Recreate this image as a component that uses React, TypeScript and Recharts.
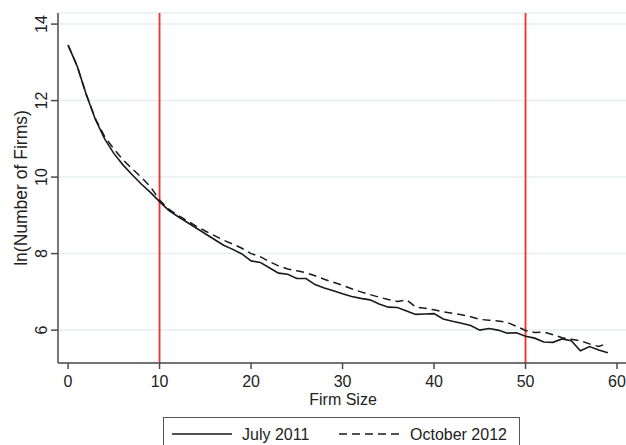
import React from "react";
import {
  CartesianGrid,
  Line,
  LineChart,
  ReferenceLine,
  XAxis,
  YAxis,
} from "recharts";

const firmSizes = [
  0, 1, 2, 3, 4, 5, 6, 7, 8, 9, 10, 11, 12, 13, 14, 15, 16, 17, 18, 19, 20, 21, 22, 23, 24, 25, 26, 27, 28, 29,
  30, 31, 32, 33, 34, 35, 36, 37, 38, 39, 40, 41, 42, 43, 44, 45, 46, 47, 48, 49, 50, 51, 52, 53, 54, 55, 56, 57,
  58, 59,
];

const july2011 = [
  13.45, 12.9, 12.15, 11.5, 11.0, 10.62, 10.32, 10.06, 9.82, 9.6, 9.36, 9.13, 8.97, 8.82, 8.67, 8.52, 8.37, 8.22,
  8.11, 7.99, 7.81, 7.77, 7.63, 7.49, 7.46, 7.35, 7.35, 7.19, 7.1, 7.03, 6.95, 6.88, 6.83, 6.79, 6.68, 6.6, 6.59,
  6.5, 6.41, 6.42, 6.43, 6.29, 6.23, 6.18, 6.12, 6.0, 6.04, 6.0, 5.92, 5.93, 5.84, 5.79, 5.69, 5.68, 5.77, 5.72,
  5.46, 5.57, 5.48, 5.41,
];

const october2012 = [
  13.45, 12.9, 12.15, 11.52, 11.06, 10.74, 10.45, 10.22, 10.0, 9.75, 9.4, 9.16, 9.0, 8.86, 8.72, 8.59, 8.47, 8.35,
  8.25, 8.14, 8.0, 7.92, 7.79, 7.68, 7.6, 7.55, 7.5, 7.42, 7.33, 7.25, 7.17, 7.08, 7.0, 6.93, 6.86, 6.8, 6.75, 6.79,
  6.6, 6.57, 6.53, 6.48, 6.44, 6.4, 6.35, 6.28, 6.26, 6.24, 6.2, 6.1, 5.99, 5.94, 5.95, 5.88, 5.8, 5.76, 5.72, 5.64,
  5.57, 5.66,
];

const xTicks = [0, 10, 20, 30, 40, 50, 60];
const yTicks = [6, 8, 10, 12, 14];
const cutoffs = [10, 50];

const chartData = firmSizes.map((size, i) => ({
  size,
  july: july2011[i],
  october: october2012[i],
}));

const FONT = "'Liberation Sans', Arial, Helvetica, sans-serif";
const AXIS = "#4a4a4a";
const INK = "#1a1a1a";

function YTick(props: any) {
  const { x, y, payload } = props;
  return (
    <text
      x={x}
      y={y}
      transform={`rotate(-90 ${x} ${y})`}
      textAnchor="middle"
      fontSize={16}
      fill="#222"
      fontFamily={FONT}
    >
      {payload.value}
    </text>
  );
}

export default function App() {
  return (
    <div
      style={{
        position: "absolute",
        left: 0,
        top: 0,
        width: 626,
        height: 445,
        overflow: "hidden",
        background: "#fff",
        fontFamily: FONT,
      }}
    >
      <LineChart
        width={640}
        height={445}
        data={chartData}
        margin={{ top: 13, right: 12, bottom: 52, left: 0 }}
      >
        <CartesianGrid horizontal vertical={false} stroke="#e6eff0" strokeWidth={1.5} />
        <XAxis
          dataKey="size"
          type="number"
          domain={[-1.1, 61.2]}
          ticks={xTicks}
          allowDataOverflow
          height={30}
          stroke={AXIS}
          strokeWidth={1.5}
          tickSize={6}
          tickMargin={7}
          tick={{ fill: "#222", fontSize: 16, fontFamily: FONT }}
          label={{
            content: (p: any) => (
              <text
                x={p.viewBox.x + p.viewBox.width / 2}
                y={405}
                textAnchor="middle"
                fontSize={16}
                fill="#222"
                fontFamily={FONT}
              >
                Firm Size
              </text>
            ),
          }}
        />
        <YAxis
          type="number"
          domain={[5.14, 14.29]}
          ticks={yTicks}
          allowDataOverflow
          width={58}
          stroke={AXIS}
          strokeWidth={1.5}
          tickSize={7}
          tickMargin={4}
          tick={<YTick />}
          label={{
            content: (p: any) => {
              const cx = 27;
              const cy = p.viewBox.y + p.viewBox.height / 2;
              return (
                <text
                  x={cx}
                  y={cy}
                  transform={`rotate(-90 ${cx} ${cy})`}
                  textAnchor="middle"
                  fontSize={17.5}
                  fill="#222"
                  fontFamily={FONT}
                >
                  ln(Number of Firms)
                </text>
              );
            },
          }}
        />
        {cutoffs.map((c) => (
          <ReferenceLine key={c} x={c} stroke="#ff2a2a" strokeWidth={1.8} />
        ))}
        <Line
          dataKey="october"
          stroke={INK}
          strokeWidth={1.5}
          strokeDasharray="8 5"
          dot={false}
          isAnimationActive={false}
        />
        <Line
          dataKey="july"
          stroke={INK}
          strokeWidth={1.6}
          dot={false}
          isAnimationActive={false}
        />
      </LineChart>

      <div
        style={{
          position: "absolute",
          left: 163,
          top: 417,
          width: 357,
          height: 40,
          border: "1px solid #555",
          boxSizing: "border-box",
        }}
      >
        <svg width={357} height={40} style={{ position: "absolute", left: 0, top: 0 }}>
          <line x1={8} x2={68} y1={16} y2={16} stroke={INK} strokeWidth={1.6} />
          <text x={78} y={22} fontSize={16} fill="#222" fontFamily={FONT}>
            July 2011
          </text>
          <line x1={175} x2={235} y1={16} y2={16} stroke={INK} strokeWidth={1.5} strokeDasharray="8 5" />
          <text x={246} y={22} fontSize={16} fill="#222" fontFamily={FONT}>
            October 2012
          </text>
        </svg>
      </div>
    </div>
  );
}
